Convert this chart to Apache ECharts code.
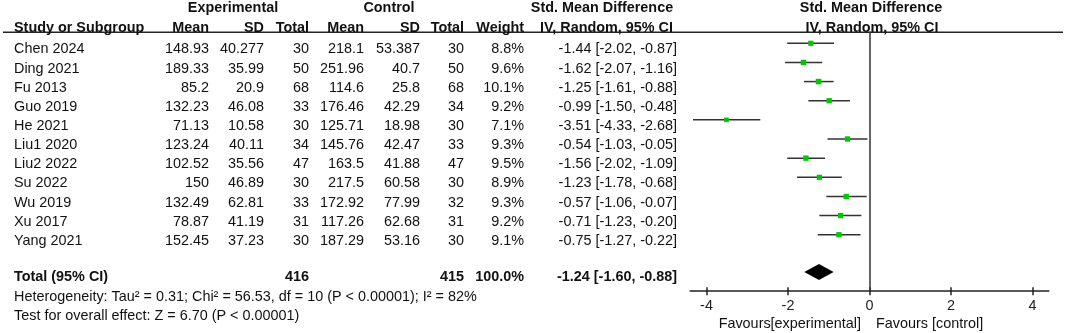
<!DOCTYPE html>
<html>
<head>
<meta charset="utf-8">
<script src="https://cdn.jsdelivr.net/npm/echarts@6/dist/echarts.min.js"></script>
<style>
html, body { margin: 0; padding: 0; background: #fff; }
#forest { width: 1065px; height: 333px; }
</style>
</head>
<body>
<div id="forest"></div>
<script>
// 数据
var studies = ['Chen 2024', 'Ding 2021', 'Fu 2013', 'Guo 2019', 'He 2021', 'Liu1 2020', 'Liu2 2022', 'Su 2022', 'Wu 2019', 'Xu 2017', 'Yang 2021'];
var expMean = [148.93, 189.33, 85.2, 132.23, 71.13, 123.24, 102.52, 150, 132.49, 78.87, 152.45];
var expSD = [40.277, 35.99, 20.9, 46.08, 10.58, 40.11, 35.56, 46.89, 62.81, 41.19, 37.23];
var expN = [30, 50, 68, 33, 30, 34, 47, 30, 33, 31, 30];
var ctlMean = [218.1, 251.96, 114.6, 176.46, 125.71, 145.76, 163.5, 217.5, 172.92, 117.26, 187.29];
var ctlSD = [53.387, 40.7, 25.8, 42.29, 18.98, 42.47, 41.88, 60.58, 77.99, 62.68, 53.16];
var ctlN = [30, 50, 68, 34, 30, 33, 47, 30, 32, 31, 30];
var weights = [8.8, 9.6, 10.1, 9.2, 7.1, 9.3, 9.5, 8.9, 9.3, 9.2, 9.1];
var smd = [-1.44, -1.62, -1.25, -0.99, -3.51, -0.54, -1.56, -1.23, -0.57, -0.71, -0.75];
var ciLow = [-2.02, -2.07, -1.61, -1.50, -4.33, -1.03, -2.02, -1.78, -1.06, -1.23, -1.27];
var ciHigh = [-0.87, -1.16, -0.88, -0.48, -2.68, -0.05, -1.09, -0.68, -0.07, -0.20, -0.22];

var totalLabel = 'Total (95% CI)';
var totalExpN = 416;
var totalCtlN = 415;
var totalWeight = 100.0;
var totalSmd = -1.24;
var totalLow = -1.60;
var totalHigh = -0.88;

var xTicks = [-4, -2, 0, 2, 4];
var heterogeneityText = 'Heterogeneity: Tau\u00b2 = 0.31; Chi\u00b2 = 56.53, df = 10 (P < 0.00001); I\u00b2 = 82%';
var overallText = 'Test for overall effect: Z = 6.70 (P < 0.00001)';
var favourLeft = 'Favours[experimental]';
var favourRight = 'Favours [control]';

// 布局
var FONT = '"Liberation Sans", Arial, sans-serif';
var FS = 14.4;
var INK = '#111';
var TOTAL_ROW = 12;
var colX = { study: 14, expMean: 209, expSD: 264, expN: 309, ctlMean: 364, ctlSD: 420, ctlN: 464, weight: 524, ci: 677 };

function fmtCI(m, lo, hi) {
	return m.toFixed(2) + ' [' + lo.toFixed(2) + ', ' + hi.toFixed(2) + ']';
}

function rowTexts(i) {
	if (i === TOTAL_ROW) {
		return [
			[colX.study, totalLabel, 'left'],
			[colX.expN, String(totalExpN), 'right'],
			[colX.ctlN, String(totalCtlN), 'right'],
			[colX.weight, totalWeight.toFixed(1) + '%', 'right'],
			[colX.ci, fmtCI(totalSmd, totalLow, totalHigh), 'right']
		];
	}
	return [
		[colX.study, studies[i], 'left'],
		[colX.expMean, String(expMean[i]), 'right'],
		[colX.expSD, String(expSD[i]), 'right'],
		[colX.expN, String(expN[i]), 'right'],
		[colX.ctlMean, String(ctlMean[i]), 'right'],
		[colX.ctlSD, String(ctlSD[i]), 'right'],
		[colX.ctlN, String(ctlN[i]), 'right'],
		[colX.weight, weights[i].toFixed(1) + '%', 'right'],
		[colX.ci, fmtCI(smd[i], ciLow[i], ciHigh[i]), 'right']
	];
}

function txt(x, y, s, align, bold) {
	return {
		type: 'text', x: x, y: y, silent: true,
		style: {
			text: s, fill: INK, fontSize: FS, fontFamily: FONT,
			fontWeight: bold ? 'bold' : 'normal',
			align: align, textAlign: align,
			verticalAlign: 'middle', textVerticalAlign: 'middle'
		}
	};
}

var tableRows = studies.map(function(s, i) { return [0, i]; });
tableRows.push([0, TOTAL_ROW]);

var ciData = studies.map(function(s, i) { return [ciLow[i], ciHigh[i], i]; });
var pointData = studies.map(function(s, i) { return [smd[i], i, weights[i]]; });

var myChart = echarts.init(document.getElementById('forest'));

var headerY1 = 8.4, headerY2 = 28.3;
var option = {
	animation: false,
	backgroundColor: '#fff',
	grid: { left: 690.2, top: 31.8, width: 358.6, height: 259.4 },
	xAxis: [{
		type: 'value', min: -4.4, max: 4.4, position: 'bottom',
		axisLine: { show: true, onZero: false, lineStyle: { color: '#222', width: 1.5 } },
		axisTick: { show: true, customValues: xTicks, length: 4, lineStyle: { color: '#222', width: 1.5 } },
		axisLabel: { customValues: xTicks, fontSize: FS, fontFamily: FONT, color: '#222', margin: 8 },
		splitLine: { show: false }
	}, {
		type: 'value', min: -4.4, max: 4.4, position: 'bottom', offset: 0,
		axisLine: { show: false, onZero: false },
		axisTick: { show: true, inside: true, customValues: xTicks, length: 4, lineStyle: { color: '#222', width: 1.5 } },
		axisLabel: { show: false },
		splitLine: { show: false }
	}],
	yAxis: { type: 'value', inverse: true, min: -0.6, max: 12.95, show: false },
	graphic: [
		{ type: 'line', silent: true, shape: { x1: 3, y1: 32.3, x2: 1063, y2: 32.3 }, style: { stroke: '#222', lineWidth: 1.5 } },
		txt(233, headerY1, 'Experimental', 'center', true),
		txt(389, headerY1, 'Control', 'center', true),
		txt(602, headerY1, 'Std. Mean Difference', 'center', true),
		txt(871, headerY1, 'Std. Mean Difference', 'center', true),
		txt(colX.study, headerY2, 'Study or Subgroup', 'left', true),
		txt(colX.expMean, headerY2, 'Mean', 'right', true),
		txt(colX.expSD, headerY2, 'SD', 'right', true),
		txt(colX.expN, headerY2, 'Total', 'right', true),
		txt(colX.ctlMean, headerY2, 'Mean', 'right', true),
		txt(colX.ctlSD, headerY2, 'SD', 'right', true),
		txt(colX.ctlN, headerY2, 'Total', 'right', true),
		txt(colX.weight, headerY2, 'Weight', 'right', true),
		txt(673, headerY2, 'IV, Random, 95% CI', 'right', true),
		txt(872, headerY2, 'IV, Random, 95% CI', 'center', true),
		txt(colX.study, 297.4, heterogeneityText, 'left', false),
		txt(colX.study, 315.8, overallText, 'left', false),
		txt(861, 323.8, favourLeft, 'right', false),
		txt(876, 323.8, favourRight, 'left', false)
	],
	series: [{
		// 表格文字
		type: 'custom',
		data: tableRows,
		silent: true,
		renderItem: function(params, api) {
			var row = api.value(1);
			var bold = row === TOTAL_ROW;
			var y = api.coord([0, row])[1] + (bold ? 4.4 : 6.2);
			return {
				type: 'group',
				children: rowTexts(row).map(function(t) { return txt(t[0], y, t[1], t[2], bold); })
			};
		}
	}, {
		// 置信区间
		type: 'custom',
		data: ciData,
		silent: true,
		renderItem: function(params, api) {
			var a = api.coord([api.value(0), api.value(2)]);
			var b = api.coord([api.value(1), api.value(2)]);
			return { type: 'line', shape: { x1: a[0], y1: a[1], x2: b[0], y2: b[1] }, style: { stroke: '#333', lineWidth: 1.5 } };
		}
	}, {
		type: 'scatter',
		data: pointData,
		symbol: 'rect',
		symbolSize: function(v) { return Math.sqrt(v[2]) * 1.75; },
		itemStyle: { color: '#00c800', opacity: 1 },
		silent: true,
		markLine: {
			silent: true, symbol: 'none', label: { show: false },
			lineStyle: { color: '#333', width: 1.5, type: 'solid' },
			data: [{ xAxis: 0 }]
		}
	}, {
		// 合并效应菱形
		type: 'custom',
		data: [[totalSmd, totalLow, totalHigh, TOTAL_ROW]],
		silent: true,
		renderItem: function(params, api) {
			var r = api.value(3);
			var c = api.coord([api.value(0), r]);
			var l = api.coord([api.value(1), r]);
			var h = api.coord([api.value(2), r]);
			var y = c[1] - 1;
			return {
				type: 'polygon',
				shape: { points: [[l[0], y], [c[0], y - 8], [h[0], y], [c[0], y + 8]] },
				style: { fill: '#000' }
			};
		}
	}]
};
myChart.setOption(option);
</script>
</body>
</html>
